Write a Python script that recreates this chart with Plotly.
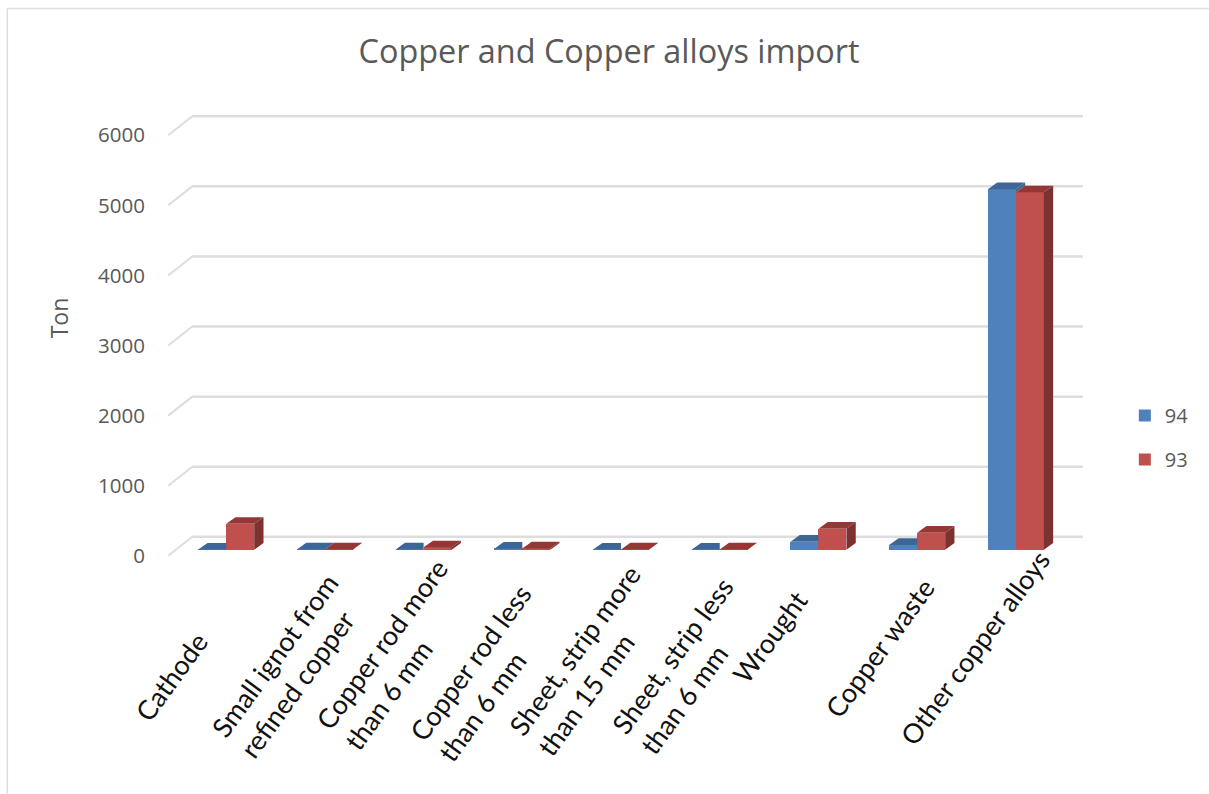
import plotly.graph_objects as go

# ---- data ----
CATEGORIES = ["Cathode", "Small ignot from<br>refined copper", "Copper rod more<br>than 6 mm",
              "Copper rod less<br>than 6 mm", "Sheet, strip more<br>than 15 mm",
              "Sheet, strip less<br>than 6 mm", "Wrought", "Copper waste", "Other copper alloys"]
SERIES_94 = [3, 5, 5, 15, 3, 3, 115, 70, 5145]
SERIES_93 = [370, 5, 35, 20, 5, 5, 300, 245, 5100]
Y_TICKS = [0, 1000, 2000, 3000, 4000, 5000, 6000]
LABEL_CENTERS = [(171, 677), (288, 666), (395, 655), (484, 673), (588, 661),
                 (686, 666), (770, 637), (880, 648), (975, 648)]

# ---- layout constants (page pixels) ----
W, H = 1209, 794
X_C0, PX_CAT = 226.0, 98.75      # pixel of category 0 and pixels per category
Y_0, PX_UNIT = 556.0, 0.07017    # pixel of value 0 and pixels per unit
X_RANGE = (-0.6, 8.68)
Y_RANGE = (-60, 6360)
BAR_W = 28 / PX_CAT
BASE = 6 / PX_UNIT
DX, DY = 9.3 / PX_CAT, 6.7 / PX_UNIT
WALL_DX, WALL_DY = 24 / PX_CAT, 19 / PX_UNIT
BLUE, BLUE_D, RED, RED_TOP, RED_SIDE = "#4F81BD", "#3E6694", "#C0504D", "#953735", "#7B3230"
GRID = "#DDDDDD"
UI_FONT = "Open Sans"

def xv(px): return (px - X_C0) / PX_CAT
def yv(py): return (Y_0 - py) / PX_UNIT
def xp(v): return X_C0 + v * PX_CAT
def yp(v): return Y_0 - v * PX_UNIT

l, r = xp(X_RANGE[0]), W - xp(X_RANGE[1])
t, b = yp(Y_RANGE[1]), H - yp(Y_RANGE[0])
pw, ph = W - l - r, H - t - b
def px_x(p): return (p - l) / pw
def px_y(p): return 1 - (p - t) / ph

fig = go.Figure()
idx = list(range(len(CATEGORIES)))

fig.add_bar(x=[i - BAR_W / 2 for i in idx], y=SERIES_94, base=[BASE] * len(idx), width=BAR_W, name="94",
            marker=dict(color=BLUE, line=dict(width=0)), legendgroup="94")
fig.add_bar(x=[i + BAR_W / 2 for i in idx], y=SERIES_93, base=[BASE] * len(idx), width=BAR_W, name="93",
            marker=dict(color=RED, line=dict(width=0)), legendgroup="93")

def poly(xs, ys, color):
    fig.add_scatter(x=xs + [xs[0]], y=ys + [ys[0]], mode="lines", fill="toself", fillcolor=color,
                    line=dict(width=0, color=color), showlegend=False, hoverinfo="skip")

# top of blue columns, cut where the red column stands in front
for i in idx:
    v, rv = SERIES_94[i], SERIES_93[i]
    x0, x1 = i - BAR_W, i
    top = BASE + v
    right = x1 + DX if v >= rv else x1
    poly([x0, x0 + DX, right, x1], [top, top + DY, top + DY, top], BLUE_D)
    if v > rv:
        poly([x1, x1 + DX, x1 + DX, x1], [top, top + DY, BASE + rv + DY, BASE + rv], BLUE_D)
# top and side of red columns
for i in idx:
    rv = SERIES_93[i]
    x0, x1 = i, i + BAR_W
    top = BASE + rv
    poly([x0, x0 + DX, x1 + DX, x1], [top, top + DY, top + DY, top], RED_TOP)
    poly([x1, x1 + DX, x1 + DX, x1], [top, top + DY, BASE + DY, BASE], RED_SIDE)

# gridlines: left wall diagonal + back wall
for tick in Y_TICKS:
    fig.add_shape(type="line", layer="below", xref="x", yref="y", x0=xv(168), x1=xv(168) + WALL_DX,
                  y0=tick, y1=tick + WALL_DY, line=dict(color=GRID, width=2))
    fig.add_shape(type="line", layer="below", xref="x", yref="y", x0=xv(168) + WALL_DX, x1=xv(1083),
                  y0=tick + WALL_DY, y1=tick + WALL_DY, line=dict(color=GRID, width=2.5))

# chart frame
fig.add_shape(type="line", xref="paper", yref="paper", layer="below",
              x0=px_x(7), x1=px_x(7), y0=px_y(8), y1=px_y(794), line=dict(color=GRID, width=1.5))
fig.add_shape(type="line", xref="paper", yref="paper", layer="below",
              x0=px_x(7), x1=px_x(1209), y0=px_y(8), y1=px_y(8), line=dict(color=GRID, width=1.5))

annotations = []
for text, (cx, cy) in zip(CATEGORIES, LABEL_CENTERS):
    annotations.append(dict(text=text, x=px_x(cx), y=px_y(cy), xref="paper", yref="paper", showarrow=False,
                            textangle=-54, align="left", xanchor="center", yanchor="middle",
                            font=dict(family="Lato", size=27, color="#111111")))
annotations.append(dict(text="Ton", x=px_x(59), y=px_y(318), xref="paper", yref="paper", showarrow=False,
                        textangle=-90, xanchor="center", yanchor="middle",
                        font=dict(family=UI_FONT, size=23, color="#595959")))

fig.update_layout(
    width=W, height=H, autosize=False,
    margin=dict(l=l, r=r, t=t, b=b, pad=0),
    paper_bgcolor="white", plot_bgcolor="rgba(0,0,0,0)",
    barmode="overlay", bargap=0,
    title=dict(text="Copper and Copper alloys import", x=609 / W, xanchor="center",
               y=1 - 52 / H, yanchor="middle", font=dict(family=UI_FONT, size=32.4, color="#595959")),
    xaxis=dict(range=list(X_RANGE), showgrid=False, zeroline=False, showline=False,
               showticklabels=False, ticks="", fixedrange=True),
    yaxis=dict(range=list(Y_RANGE), tickvals=Y_TICKS, showgrid=False, zeroline=False, showline=False,
               ticks="", ticklabelstandoff=21, tickfont=dict(family=UI_FONT, size=20.5, color="#595959")),
    legend=dict(x=px_x(1125), xanchor="left", y=px_y(396), yanchor="top", traceorder="grouped",
                tracegroupgap=15, font=dict(family=UI_FONT, size=20, color="#595959"),
                bgcolor="rgba(0,0,0,0)"),
    annotations=annotations,
)

fig.write_html("out.html", post_script="document.body.style.margin='0';",
               config=dict(displayModeBar=False))
